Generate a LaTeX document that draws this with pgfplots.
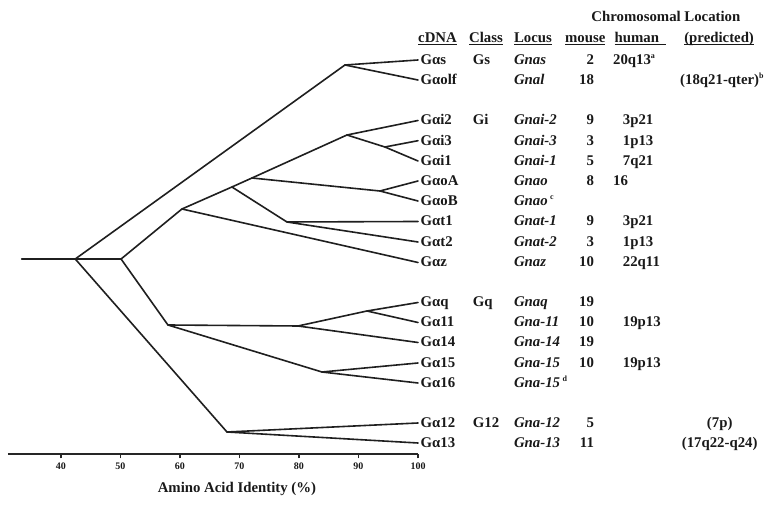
\documentclass[border=0pt]{standalone}
\usepackage{pgfplots}
\pgfplotsset{compat=1.18}
\usepackage{fontspec}
\setmainfont{Liberation Serif}
\newcommand\tf{\fontsize{14.8}{16}\selectfont\bfseries}
\newcommand\ul[1]{\underline{\smash{#1}}}
\newcommand\sups[1]{\raisebox{5.5pt}{\fontsize{8}{8}\selectfont\upshape #1}}
\tikzset{
  tree/.style={line width=1.6pt, color=black!88, mark=none, line join=round, line cap=round},
  tx/.style={inner sep=0pt, font=\tf, text=black!90},
}
\newcommand\Row[8]{%
  \node[tx,anchor=base west] at (axis cs:100.4,-#1) {#2};
  \node[tx,anchor=base west] at (axis cs:109.2,-#1) {#3};
  \node[tx,anchor=base west] at (axis cs:116.1,-#1) {\itshape #4};
  \node[tx,anchor=base east] at (axis cs:129.6,-#1) {#5};
  \node[tx,anchor=base west] at (axis cs:#6,-#1) {#7};
  \node[tx,anchor=base] at (axis cs:150.7,-#1) {#8};
}
\begin{document}
\begin{tikzpicture}[x=1pt,y=1pt]
\useasboundingbox (0,0) rectangle (766,505);
\begin{axis}[
  at={(8pt,51pt)}, anchor=south west,
  scale only axis, width=410pt, height=454pt,
  xmin=31.1, xmax=100, ymin=-454, ymax=0,
  axis x line=bottom, axis y line=none, ytick=\empty,
  x axis line style={-, line width=2pt, color=black!85},
  xtick={40,50,...,100}, tick align=outside, major tick length=4.5pt,
  tick style={line width=1.2pt, black!85},
  xticklabel style={font=\fontsize{10}{10}\selectfont\bfseries, text=black!90, yshift=-1pt},
  /pgf/number format/assume math mode=true,
  clip=false,
]
% tree branches (x = amino acid identity %, y = vertical row position)
\addplot[tree] coordinates {(33.4,-259) (50.1,-259)};
\addplot[tree] coordinates {(42.4,-259) (87.72,-65) (100,-60)};
\addplot[tree] coordinates {(87.72,-65) (100,-80)};
\addplot[tree] coordinates {(42.4,-259) (67.9,-432) (100,-423)};
\addplot[tree] coordinates {(67.9,-432) (100,-443)};
\addplot[tree] coordinates {(50.1,-259) (60.33,-209) (68.73,-187) (72.1,-178) (88.06,-135) (100,-120.5)};
\addplot[tree] coordinates {(88.06,-135) (94.44,-147) (100,-140.7)};
\addplot[tree] coordinates {(94.44,-147) (100,-161)};
\addplot[tree] coordinates {(72.1,-178) (93.6,-191) (100,-181)};
\addplot[tree] coordinates {(93.6,-191) (100,-201)};
\addplot[tree] coordinates {(68.73,-187) (77.98,-222) (100,-221.5)};
\addplot[tree] coordinates {(77.98,-222) (100,-242)};
\addplot[tree] coordinates {(60.33,-209) (100,-262.5)};
\addplot[tree] coordinates {(50.1,-259) (57.98,-325) (79.83,-326) (91.42,-311) (100,-302.5)};
\addplot[tree] coordinates {(91.42,-311) (100,-322.5)};
\addplot[tree] coordinates {(79.83,-326) (100,-342.5)};
\addplot[tree] coordinates {(57.98,-325) (83.86,-372) (100,-363)};
\addplot[tree] coordinates {(83.86,-372) (100,-383)};

% headers
\node[tx,anchor=base] at (axis cs:141.66,-21.5) {Chromosomal Location};
\node[tx,anchor=base west] at (axis cs:100.0,-43) {\ul{cDNA}};
\node[tx,anchor=base west] at (axis cs:108.56,-43) {\ul{Class}};
\node[tx,anchor=base west] at (axis cs:116.12,-43) {\ul{Locus}};
\node[tx,anchor=base west] at (axis cs:124.69,-43) {\ul{mouse}};
\node[tx,anchor=base west] at (axis cs:133.0,-43) {\ul{human\hspace{7pt}}};
\node[tx,anchor=base] at (axis cs:150.6,-43) {\ul{(predicted)}};

% rows
\Row{64.5}{Gαs}{Gs}{Gnas}{2}{132.76}{20q13\rlap{\sups{a}}}{}
\Row{84.5}{Gαolf}{}{Gnal}{18}{132.76}{}{(18q21-qter)\rlap{\sups{b}}}
\Row{125}{Gαi2}{Gi}{Gnai-2}{9}{134.4}{3p21}{}
\Row{145.2}{Gαi3}{}{Gnai-3}{3}{134.4}{1p13}{}
\Row{165.5}{Gαi1}{}{Gnai-1}{5}{134.4}{7q21}{}
\Row{185.5}{GαoA}{}{Gnao}{8}{132.76}{16}{}
\Row{205.5}{GαoB}{}{Gnao\,\sups{c}}{}{132.76}{}{}
\Row{226}{Gαt1}{}{Gnat-1}{9}{134.4}{3p21}{}
\Row{246.5}{Gαt2}{}{Gnat-2}{3}{134.4}{1p13}{}
\Row{267}{Gαz}{}{Gnaz}{10}{134.4}{22q11}{}
\Row{307}{Gαq}{Gq}{Gnaq}{19}{134.4}{}{}
\Row{327}{Gα11}{}{Gna-11}{10}{134.4}{19p13}{}
\Row{347}{Gα14}{}{Gna-14}{19}{134.4}{}{}
\Row{367.5}{Gα15}{}{Gna-15}{10}{134.4}{19p13}{}
\Row{387.5}{Gα16}{}{Gna-15\,\sups{d}}{}{134.4}{}{}
\Row{427.5}{Gα12}{G12}{Gna-12}{5}{134.4}{}{(7p)}
\Row{447.5}{Gα13}{}{Gna-13}{11}{134.4}{}{(17q22-q24)}

% axis title
\node[tx,anchor=base] at (axis cs:69.57,-493) {Amino Acid Identity (\%)};
\end{axis}
\end{tikzpicture}
\end{document}
